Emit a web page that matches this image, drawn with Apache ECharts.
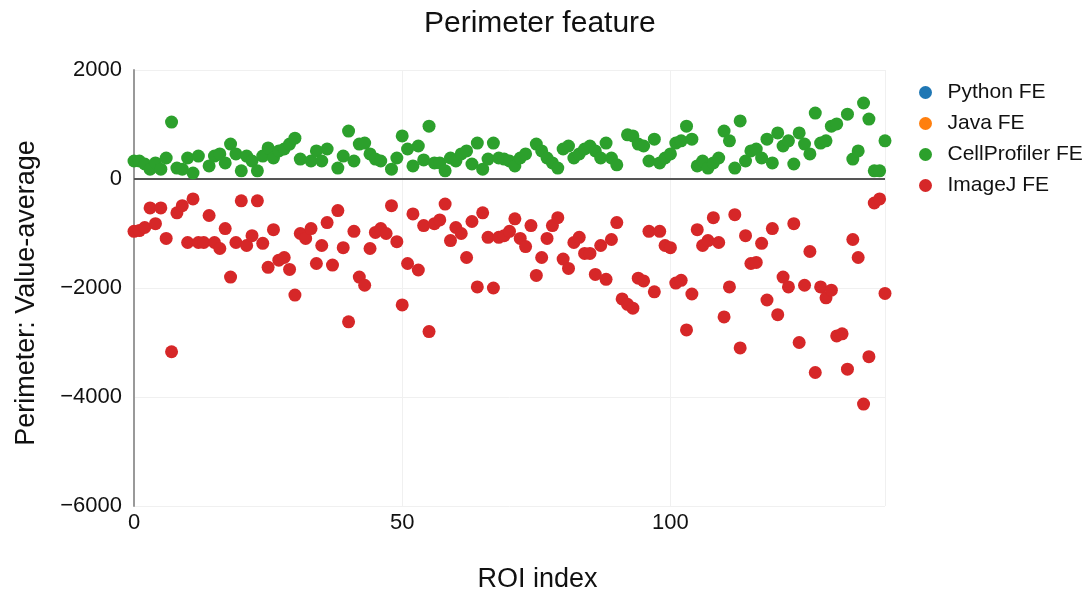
<!DOCTYPE html>
<html>
<head>
<meta charset="utf-8">
<script src="https://cdn.jsdelivr.net/npm/echarts@6/dist/echarts.min.js"></script>
<style>
html,body{margin:0;padding:0;background:#fff;}
#chart{width:1088px;height:590px;}
</style>
</head>
<body>
<div id="chart"></div>
<script>
// ---- data ----
const seriesNames = ['Python FE', 'Java FE', 'CellProfiler FE', 'ImageJ FE'];
const yTicks = [-6000, -4000, -2000, 0, 2000];
const xTicks = [0, 50, 100];

// Python FE and Java FE: no visible points in the reference
const pythonFE = [];
const javaFE = [];

// CellProfiler FE, value per ROI index 0..140 (null = not distinguishable)
const cellProfilerFE = [
  330, 330, 275, 180, 295, 180, 385, 1045, 200, 180,
  385, 110, 420, null, 240, 420, 460, 295, 640, 460,
  150, 420, 330, 150, 420, 570, 385, 515, 550, 640,
  750, 365, null, 330, 515, 330, 550, null, 200, 420,
  880, 330, 640, 660, 460, 365, 330, null, 180, 385,
  790, 550, 240, 605, 350, 970, 295, 295, 150, 385,
  330, 460, 515, 275, 660, 180, 365, 660, 385, 365,
  330, 240, 385, 460, null, 640, 515, 385, 295, 200,
  550, 605, 385, 460, 550, 605, 515, 385, 660, 385,
  260, null, 810, 790, 640, 605, 330, 730, 295, 385,
  460, 660, 700, 970, 730, 240, 330, 200, 295, 385,
  880, 700, 200, 1065, 330, 515, 550, 385, 730, 295,
  845, 605, 700, 275, 845, 640, 460, 1210, 660, 700,
  970, 1010, null, 1190, 365, 515, 1395, 1100, 150, 150,
  700
];

// ImageJ FE, value per ROI index 0..140
const imageJFE = [
  -960, -946, -890, -530, -820, -530, -1090, -3170, -620, -490,
  -1165, -365, -1165, -1165, -670, -1165, -1275, -910, -1800, -1165,
  -400, -1220, -1040, -400, -1180, -1620, -930, -1490, -1440, -1660,
  -2130, -1000, -1090, -910, -1550, -1220, -800, -1580, -580, -1260,
  -2620, -960, -1800, -1950, -1275, -980, -910, -1000, -490, -1150,
  -2310, -1550, -640, -1670, -855, -2800, -820, -750, -460, -1130,
  -890, -1000, -1440, -780, -1980, -620, -1070, -2000, -1070, -1040,
  -960, -730, -1090, -1240, -855, -1770, -1440, -1090, -855, -710,
  -1470, -1640, -1165, -1070, -1365, -1365, -1750, -1220, -1840, -1110,
  -800, -2200, -2300, -2370, -1820, -1870, -960, -2070, -960, -1220,
  -1260, -1910, -1860, -2770, -2110, -930, -1220, -1130, -710, -1165,
  -2530, -1980, -655, -3100, -1040, -1550, -1530, -1180, -2220, -910,
  -2490, -1800, -1980, -820, -3000, -1950, -1330, -3550, -1980, -2180,
  -2040, -2880, -2840, -3490, -1110, -1440, -4130, -3260, -440, -365,
  -2100
];

const colors = ['#1f77b4', '#ff7f0e', '#2ca02c', '#d62728'];

function toPairs(arr) {
  const out = [];
  arr.forEach((v, i) => { if (v !== null && v !== undefined) out.push([i, v]); });
  return out;
}
const fmtMinus = v => String(v).replace('-', '\u2212');
const FONT = '"Liberation Sans", Arial, Helvetica, sans-serif';

const chart = echarts.init(document.getElementById('chart'), null, {renderer: 'canvas'});
const dataSets = [pythonFE, javaFE, cellProfilerFE, imageJFE];

const series = seriesNames.map((name, k) => ({
  name: name,
  type: 'scatter',
  data: toPairs(dataSets[k]),
  symbol: 'circle',
  symbolSize: 13,
  itemStyle: {color: colors[k], opacity: 1},
  z: 2 + k
}));
series[3].markLine = {
  silent: true,
  symbol: ['none', 'none'],
  label: {show: false},
  lineStyle: {color: '#555', width: 2, type: 'solid'},
  data: [{yAxis: 0}],
  z: 1
};

chart.setOption({
  animation: false,
  backgroundColor: '#fff',
  color: colors,
  textStyle: {fontFamily: FONT},
  title: {
    text: 'Perimeter feature',
    left: 419,
    top: 4,
    textStyle: {fontFamily: FONT, fontSize: 30, fontWeight: 'normal', color: '#111'}
  },
  legend: {
    orient: 'vertical',
    left: 914,
    top: 77,
    itemWidth: 34,
    itemHeight: 13,
    itemGap: 10,
    icon: 'circle',
    textStyle: {fontFamily: FONT, fontSize: 21, color: '#111'},
    data: seriesNames
  },
  grid: {left: 134, right: 203, top: 70, bottom: 84, containLabel: false, outerBoundsMode: 'none'},
  xAxis: {
    type: 'value',
    min: 0,
    max: 140,
    interval: 50,
    name: 'ROI index',
    nameLocation: 'middle',
    nameGap: 60,
    nameTextStyle: {fontFamily: FONT, fontSize: 27, color: '#111', padding: [0, 0, 0, 56]},
    axisLine: {show: false, onZero: false},
    axisTick: {show: false},
    axisLabel: {
      fontFamily: FONT, fontSize: 22, color: '#111', margin: 6,
      showMaxLabel: false,
      formatter: v => xTicks.includes(v) ? String(v) : ''
    },
    splitLine: {show: true, lineStyle: {color: '#f0f0f0', width: 1}}
  },
  yAxis: {
    type: 'value',
    min: yTicks[0],
    max: yTicks[yTicks.length - 1],
    interval: 2000,
    name: 'Perimeter: Value-average',
    nameLocation: 'middle',
    nameGap: 94,
    nameRotate: 90,
    nameTextStyle: {fontFamily: FONT, fontSize: 27, color: '#111', padding: [0, 10, 0, 0]},
    axisLine: {show: true, lineStyle: {color: '#999', width: 2}},
    axisTick: {show: false},
    axisLabel: {fontFamily: FONT, fontSize: 22, color: '#111', margin: 12, formatter: fmtMinus},
    splitLine: {show: true, lineStyle: {color: '#f0f0f0', width: 1}}
  },
  series: series
});
</script>
</body>
</html>
